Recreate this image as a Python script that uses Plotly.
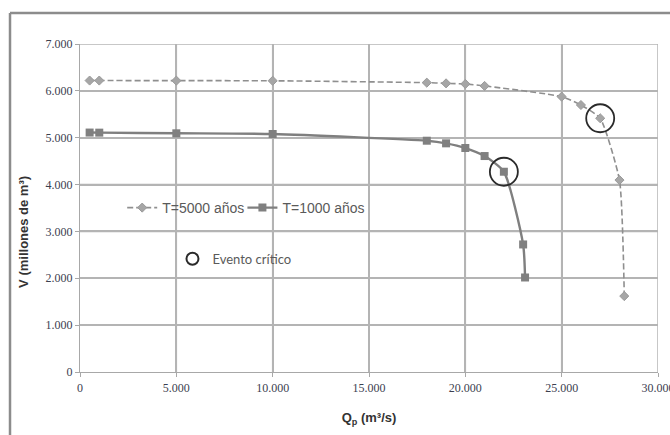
import plotly.graph_objects as go

# Peak discharge Qp (m3/s) and volume V (millions of m3) for each return period
q_t5000 = [500, 1000, 5000, 10000, 18000, 19000, 20000, 21000, 25000, 26000, 27000, 28000, 28250]
v_t5000 = [6220, 6220, 6218, 6215, 6175, 6160, 6147, 6105, 5876, 5698, 5415, 4096, 1620]

q_t1000 = [500, 1000, 5000, 10000, 18000, 19000, 20000, 21000, 22000, 23000, 23100]
v_t1000 = [5110, 5108, 5094, 5079, 4936, 4880, 4780, 4609, 4274, 2722, 2017]

# Critical events highlighted on each curve
q_critico = [27000, 22000]
v_critico = [5415, 4274]

x_ticks = [0, 5000, 10000, 15000, 20000, 25000, 30000]
y_ticks = [0, 1000, 2000, 3000, 4000, 5000, 6000, 7000]

x_min, x_max = x_ticks[0], x_ticks[-1]
y_min, y_max = y_ticks[0], y_ticks[-1]

grid_color = "#b4b4b4"

fig = go.Figure()

# Gridlines drawn as a background trace so the data sits on top of them
grid_x, grid_y = [], []
for xv in x_ticks[1:]:
    grid_x += [xv, xv, None]
    grid_y += [y_min, y_max, None]
for yv in y_ticks[1:]:
    grid_x += [x_min, x_max, None]
    grid_y += [yv, yv, None]
fig.add_trace(go.Scatter(
    x=grid_x, y=grid_y, mode="lines", line=dict(color=grid_color, width=1.5),
    hoverinfo="skip", showlegend=False, cliponaxis=False,
))

fig.add_trace(go.Scatter(
    x=q_t5000, y=v_t5000, name="T=5000 años", mode="lines+markers",
    line=dict(color="#8f8f8f", width=1.6, dash="6px,3px", shape="spline", smoothing=0.5),
    marker=dict(symbol="diamond", size=7, color="#a6a6a6", line=dict(color="#9a9a9a", width=1)),
    legend="legend",
))

fig.add_trace(go.Scatter(
    x=q_t1000, y=v_t1000, name="T=1000 años", mode="lines+markers",
    line=dict(color="#7f7f7f", width=2.4, shape="spline", smoothing=0.6),
    marker=dict(symbol="square", size=8, color="#808080"),
    legend="legend3",
))

fig.add_trace(go.Scatter(
    x=q_critico, y=v_critico, name="Evento crítico", mode="markers",
    marker=dict(symbol="circle-open", size=28, color="#2a2a2a", line=dict(width=1.8)),
    legend="legend2",
))

tick_font = dict(family="Liberation Serif, Times New Roman, serif", size=12, color="#3c4050")

fig.update_xaxes(
    range=[x_min, x_max], tickvals=x_ticks, tickformat=",d",
    showgrid=True, gridcolor=grid_color, gridwidth=1.5,
    showline=True, linecolor="#a8a8a8", linewidth=1.3,
    ticks="outside", ticklen=4, tickcolor="#a8a8a8",
    tickfont=tick_font, zeroline=False, ticklabeloverflow="allow",
    title=dict(text="Q<sub>p</sub> (m³/s)", font=dict(family="Liberation Sans, Arial, sans-serif",
                                                     size=13, color="#333333", weight="bold"),
               standoff=19),
)
fig.update_yaxes(
    range=[y_min, y_max], tickvals=y_ticks, tickformat=",d",
    showgrid=True, gridcolor=grid_color, gridwidth=1.5,
    showline=True, linecolor="#a8a8a8", linewidth=1.3,
    ticks="outside", ticklen=4, tickcolor="#a8a8a8",
    tickfont=tick_font, zeroline=False,
)

# Outer chart frame (top and left edges)
fig.add_shape(type="line", xref="paper", yref="paper", x0=-0.1211, x1=1.03, y0=1.0945, y1=1.0945,
              line=dict(color="#8c8c8c", width=2.5))
fig.add_shape(type="line", xref="paper", yref="paper", x0=-0.1211, x1=-0.1211, y0=1.0945, y1=-0.2,
              line=dict(color="#8c8c8c", width=2.5))

# Vertical axis title
fig.add_annotation(
    text="V (millones de m³)", textangle=-90, xref="paper", yref="paper",
    x=-0.097, y=0.427, xanchor="center", yanchor="middle", showarrow=False,
    font=dict(family="Liberation Sans, Arial, sans-serif", size=13, color="#333333", weight="bold"),
)

series_legend_font = dict(family="Liberation Sans, Arial, sans-serif", size=14, color="#5a5a5a")

fig.update_layout(
    template="none",
    width=670, height=435,
    margin=dict(l=80, r=12, t=44, b=63),
    paper_bgcolor="white", plot_bgcolor="white",
    separators=",.",
    showlegend=True,
    legend=dict(
        orientation="h", x=0.073, y=0.5, xanchor="left", yanchor="middle",
        font=series_legend_font, bgcolor="rgba(0,0,0,0)", itemwidth=30,
    ),
    legend3=dict(
        orientation="h", x=0.281, y=0.5, xanchor="left", yanchor="middle",
        font=series_legend_font, bgcolor="rgba(0,0,0,0)", itemwidth=30,
    ),
    legend2=dict(
        orientation="h", x=0.16, y=0.345, xanchor="left", yanchor="middle",
        font=dict(family="Lato, Open Sans, sans-serif", size=13, color="#5a5a5a"),
        bgcolor="rgba(0,0,0,0)", itemsizing="constant",
    ),
)

fig.write_html("out.html")
